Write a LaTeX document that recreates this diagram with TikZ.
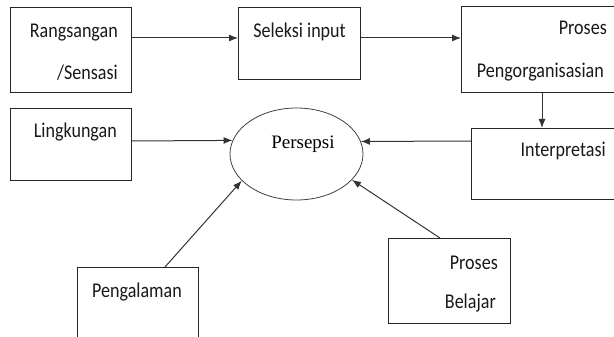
\documentclass[tikz,border=0pt]{standalone}
\usepackage{fontspec}
\setmainfont{Carlito}[FakeStretch=0.86]
\newfontfamily\seriffont{Liberation Serif}
\usetikzlibrary{arrows.meta,shapes.geometric}
\begin{document}
\begin{tikzpicture}[x=1pt,y=-1pt,
  box/.style={draw=black!85,line width=1pt,inner sep=0pt,anchor=north west},
  lbl/.style={inner sep=0pt,anchor=base east,font=\fontsize{21}{23}\selectfont,text=black!90},
  arr/.style={draw=black!80,line width=1pt,-{Latex[length=9pt,width=7pt]}}]
\useasboundingbox (0,0) rectangle (614,337);
\clip (0,0) rectangle (614,337);
% boxes
\node[box,minimum width=121pt,minimum height=85pt] (R) at (10,7) {};
\node[box,minimum width=122pt,minimum height=72pt] (S) at (238,7) {};
\node[box,minimum width=160pt,minimum height=86pt] (P) at (461,6) {};
\node[box,minimum width=121pt,minimum height=72pt] (L) at (10,108) {};
\node[box,minimum width=150pt,minimum height=71pt] (I) at (471,128) {};
\node[box,minimum width=121pt,minimum height=80pt] (G) at (77,267) {};
\node[box,minimum width=122pt,minimum height=85pt] (B) at (388,238) {};
\node[draw=black!75,line width=0.8pt,ellipse,minimum width=133pt,minimum height=92pt,inner sep=0pt] (E) at (296.5,154) {};
% labels
\node[lbl] (tR1) at (118,38) {Rangsangan};
\node[lbl] (tR2) at (118,80) {/Sensasi};
\node[lbl] (tS) at (346,38) {Seleksi input};
\node[lbl] (tP1) at (607,35) {Proses};
\node[lbl] (tP2) at (604,78) {Pengorganisasian};
\node[lbl] (tL) at (117,138) {Lingkungan};
\node[lbl] (tI) at (606,157) {Interpretasi};
\node[lbl] (tG) at (182,297) {Pengalaman};
\node[lbl] (tB1) at (498,269) {Proses};
\node[lbl] (tB2) at (496,308) {Belajar};
\node[inner sep=0pt,anchor=base,font=\seriffont\fontsize{19}{21}\selectfont] (tE) at (303,149) {Persepsi};
% connectors
\coordinate (y1) at (0,38);
\coordinate (y2) at (0,141);
\draw[arr] (R.east |- y1) -- (S.west |- y1);
\draw[arr] (S.east |- y1) -- (P.west |- y1);
\draw[arr] ([xshift=81pt]P.south west) -- ([xshift=71pt]I.north west);
\draw[arr] (L.east |- y2) -- (E.168.5);
\draw[arr] (I.west |- y2) -- (E.11.5);
\draw[arr] ([xshift=88pt]G.north west) -- (E.206);
\draw[arr] ([xshift=52pt]B.north west) -- (E.335);
\end{tikzpicture}
\end{document}
